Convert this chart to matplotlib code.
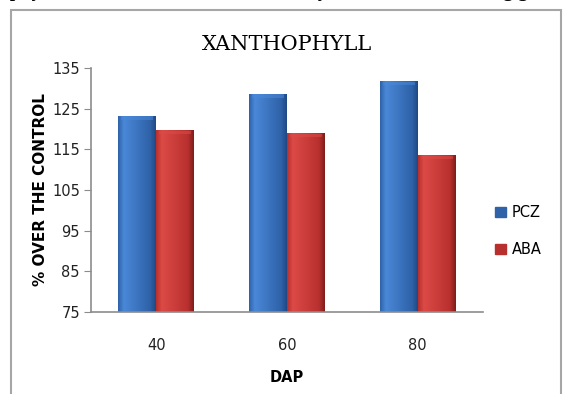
import numpy as np
import matplotlib.pyplot as plt
from matplotlib.patches import Rectangle

plt.rcParams["font.family"] = ["DejaVu Sans"]

categories = ["40", "60", "80"]
series_names = ["PCZ", "ABA"]
pcz = [123.3, 128.7, 131.8]
aba = [119.7, 119.0, 113.6]

colors = {"PCZ": ("#4a88d8", "#2f62a8", "#1f4a85"),
          "ABA": ("#dc4a46", "#b8302e", "#7e1e1c")}


def shade_bar(ax, bar, cols):
    # horizontal gradient clipped to the bar, lighter on the left
    light, mid, dark = [np.array(plt.matplotlib.colors.to_rgb(c)) for c in cols]
    t = np.linspace(0, 1, 64)
    grad = np.empty((1, 64, 3))
    for i, v in enumerate(t):
        if v < 0.15:
            grad[0, i] = mid + (light - mid) * (v / 0.15)
        elif v < 0.85:
            grad[0, i] = light + (mid - light) * ((v - 0.15) / 0.7)
        else:
            grad[0, i] = mid + (dark - mid) * ((v - 0.85) / 0.15)
    x0, y0 = bar.get_x(), bar.get_y()
    w, h = bar.get_width(), bar.get_height()
    im = ax.imshow(grad, extent=(x0, x0 + w, y0, y0 + h), aspect="auto",
                   zorder=2, interpolation="bilinear")
    im.set_clip_path(bar)
    # thin highlight band at the top
    ax.add_patch(Rectangle((x0 + w * 0.08, y0 + h - 1.0), w * 0.84, 0.8,
                           color=light, alpha=0.55, lw=0, zorder=3))


fig = plt.figure(figsize=(5.63, 3.94), dpi=100)
fig.patch.set_facecolor("white")

# cropped page text and chart frame
fig.text(0.0, 1.018, "ophyll content of Kasturi as affected by PCZ and ABA during growth stages",
         ha="left", va="center", fontsize=14, fontweight="bold", family="Liberation Serif")
fig.add_artist(Rectangle((11 / 563, -0.1), (561 - 11) / 563, 1.1 - 10 / 394,
                         transform=fig.transFigure, fill=False,
                         edgecolor="#a6a6a6", lw=1.5))

ax = fig.add_axes([91 / 563, 1 - 312 / 394, (483 - 91) / 563, (312 - 68) / 394])
x = np.arange(len(categories))
w = 0.29
b1 = ax.bar(x - w / 2, pcz, w, color=colors["PCZ"][1], zorder=1, label="PCZ")
b2 = ax.bar(x + w / 2, aba, w, color=colors["ABA"][1], zorder=1, label="ABA")
for bar in b1:
    bar.set_height(bar.get_height() - 75)
    bar.set_y(75)
    shade_bar(ax, bar, colors["PCZ"])
for bar in b2:
    bar.set_height(bar.get_height() - 75)
    bar.set_y(75)
    shade_bar(ax, bar, colors["ABA"])

ax.set_xlim(-0.5, 2.5)
ax.set_ylim(75, 135)
ax.set_yticks(np.arange(75, 136, 10))
ax.set_xticks(x)
ax.set_xticklabels(categories)
for s in ["top", "right"]:
    ax.spines[s].set_visible(False)
for s in ["left", "bottom"]:
    ax.spines[s].set_color("#8c8c8c")
    ax.spines[s].set_linewidth(1.2)
ax.tick_params(axis="y", length=5, color="#8c8c8c", labelsize=10.5, pad=3,
               labelcolor="#222222")
ax.tick_params(axis="x", length=0, labelsize=10.5, pad=19, labelcolor="#222222")
ax.set_xlabel("DAP", fontsize=10.5, fontweight="bold", labelpad=12)
ax.set_ylabel("% OVER THE CONTROL", fontsize=11, fontweight="bold", labelpad=3)
ax.set_title("XANTHOPHYLL", family="DejaVu Serif", fontsize=15, pad=13)

handles = [Rectangle((0, 0), 1, 1, color=colors["PCZ"][1]),
           Rectangle((0, 0), 1, 1, color=colors["ABA"][1])]
fig.legend(handles, series_names, loc="center left",
           bbox_to_anchor=(482 / 563, 1 - 231 / 394), frameon=False,
           fontsize=10.5, handlelength=0.75, handleheight=0.75,
           handletextpad=0.4, labelspacing=1.5)

fig.savefig("out.png", dpi=100)
